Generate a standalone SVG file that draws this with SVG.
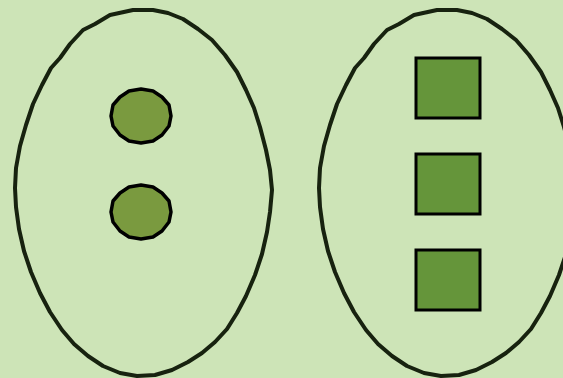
<svg xmlns="http://www.w3.org/2000/svg" width="563" height="378" viewBox="0 0 563 378">
<style>
.big{fill:none;stroke:#17220f;stroke-width:4;stroke-linejoin:round}
.dot{fill:#7a9a3f;stroke:#000;stroke-width:3.5;stroke-linejoin:round}
.sq{fill:#65953a;stroke:#000;stroke-width:3}
</style>
<rect width="563" height="378" fill="#cde4b7"/>
<defs>
<path id="blob" d="M133,10 L153,10 L168,13 L183,19 L198,29 L212,40 L225,55 L237,72 L246,90 L254,108 L260,127 L266,150 L270,170 L272,190 L270,212 L267,232 L262,254 L255,275 L246,296 L237,313 L227,329 L215,342 L202,353 L188,362 L172,370 L155,375 L137,376 L120,373 L103,366 L88,356 L74,344 L62,330 L50,312 L40,293 L31,272 L24,251 L19,229 L16,207 L15,188 L16,168 L20,146 L26,125 L33,104 L42,85 L51,68 L60,58 L70,44 L83,30 L95,24 L110,15 Z"/>
<path id="pebble" d="M0,-27 L12,-25 L21,-19 L28,-11 L30,0 L28,10 L21,19 L12,25 L0,27 L-12,25 L-21,19 L-28,10 L-30,0 L-28,-11 L-21,-19 L-12,-25 Z"/>
</defs>
<g id="groupA"><use href="#blob" class="big"/></g>
<g id="groupB"><use href="#blob" class="big" transform="translate(304,0)"/></g>
<g id="dot1"><use href="#pebble" class="dot" transform="translate(141,116)"/></g>
<g id="dot2"><use href="#pebble" class="dot" transform="translate(141,212)"/></g>
<g id="sq1"><rect class="sq" x="416" y="58" width="64" height="60"/></g>
<g id="sq2"><rect class="sq" x="416" y="154" width="64" height="60"/></g>
<g id="sq3"><rect class="sq" x="416" y="250" width="64" height="60"/></g>
<g id="connectors"/>
</svg>
